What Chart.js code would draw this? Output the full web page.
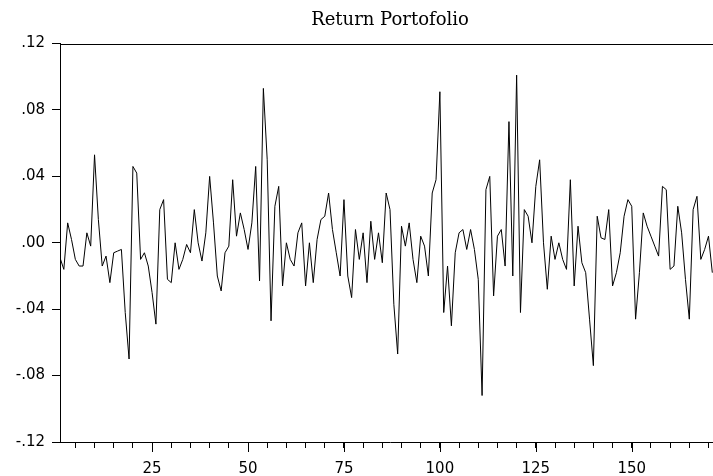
<!DOCTYPE html>
<html>
<head>
<meta charset="utf-8">
<title>Return Portofolio</title>
<script src="https://cdn.jsdelivr.net/npm/chart.js@4.4.1/dist/chart.umd.min.js"></script>
<style>
  html, body { margin: 0; padding: 0; background: #fff; overflow: hidden; }
  #wrap { width: 713px; height: 476px; overflow: hidden; }
</style>
</head>
<body>
<div id="wrap"><canvas id="chart" width="780" height="476"></canvas></div>
<script>
const title = 'Return Portofolio';

// portfolio return per period (1..171)
const returns = [
  -0.009, -0.016, 0.012, 0.002, -0.010, -0.014, -0.014, 0.006, -0.002, 0.053,
  0.014, -0.014, -0.008, -0.024, -0.006, -0.005, -0.004, -0.042, -0.070, 0.046,
  0.042, -0.010, -0.006, -0.014, -0.030, -0.049, 0.020, 0.026, -0.022, -0.024,
  0.000, -0.016, -0.010, -0.001, -0.006, 0.020, 0.000, -0.011, 0.006, 0.040,
  0.012, -0.020, -0.029, -0.006, -0.002, 0.038, 0.004, 0.018, 0.008, -0.004,
  0.012, 0.046, -0.023, 0.093, 0.050, -0.047, 0.022, 0.034, -0.026, 0.000,
  -0.010, -0.014, 0.006, 0.012, -0.026, 0.000, -0.024, 0.002, 0.014, 0.016,
  0.030, 0.008, -0.006, -0.020, 0.026, -0.020, -0.033, 0.008, -0.010, 0.006,
  -0.024, 0.013, -0.010, 0.006, -0.012, 0.030, 0.020, -0.037, -0.067, 0.010,
  -0.002, 0.012, -0.010, -0.024, 0.004, -0.002, -0.020, 0.030, 0.038, 0.091,
  -0.042, -0.014, -0.050, -0.006, 0.006, 0.008, -0.004, 0.008, -0.004, -0.022,
  -0.092, 0.032, 0.040, -0.032, 0.004, 0.008, -0.014, 0.073, -0.020, 0.101,
  -0.042, 0.020, 0.016, 0.000, 0.034, 0.050, 0.000, -0.028, 0.004, -0.010,
  0.000, -0.010, -0.016, 0.038, -0.026, 0.010, -0.012, -0.018, -0.046, -0.074,
  0.016, 0.003, 0.002, 0.020, -0.026, -0.018, -0.006, 0.016, 0.026, 0.022,
  -0.046, -0.018, 0.018, 0.010, 0.004, -0.002, -0.008, 0.034, 0.032, -0.016,
  -0.014, 0.022, 0.006, -0.022, -0.046, 0.020, 0.028, -0.010, -0.004, 0.004,
  -0.018
];

const yTicks = [-0.12, -0.08, -0.04, 0, 0.04, 0.08, 0.12];
const xLabels = [25, 50, 75, 100, 125, 150];
const xMinor = [5, 10, 15, 20, 25, 30, 35, 40, 45, 50, 55, 60, 65, 70, 75, 80, 85,
  90, 95, 100, 105, 110, 115, 120, 125, 130, 135, 140, 145, 150, 155, 160, 165, 170];

const points = returns.map((v, i) => ({ x: i + 1, y: v }));

function fmt(v) {
  const s = '.' + String(Math.round(Math.abs(v) * 100)).padStart(2, '0');
  return v < 0 ? '-' + s : s;
}

// top edge of the frame and the longer marks under the labelled periods
const frame = {
  id: 'frame',
  afterDraw(chart) {
    const { ctx, chartArea: a, scales: { x } } = chart;
    ctx.save();
    ctx.strokeStyle = '#000';
    ctx.lineWidth = 1;
    ctx.beginPath();
    ctx.moveTo(a.left, Math.round(a.top) + 0.5);
    ctx.lineTo(a.right, Math.round(a.top) + 0.5);
    xLabels.forEach(v => {
      const px = Math.round(x.getPixelForValue(v)) + 0.5;
      ctx.moveTo(px, a.bottom);
      ctx.lineTo(px, a.bottom + 10);
    });
    ctx.stroke();
    ctx.restore();
  }
};

const tickFont = { family: 'DejaVu Sans', size: 15 };

new Chart(document.getElementById('chart'), {
  type: 'line',
  data: {
    datasets: [{
      data: points,
      borderColor: '#000',
      borderWidth: 1,
      pointRadius: 0,
      tension: 0,
      fill: false
    }]
  },
  options: {
    responsive: false,
    animation: false,
    devicePixelRatio: 1,
    layout: { padding: { left: 0, right: 60, top: 0, bottom: 0 } },
    plugins: {
      legend: { display: false },
      tooltip: { enabled: false },
      title: {
        display: true,
        fullSize: false,
        text: title,
        color: '#000',
        font: { family: 'DejaVu Serif', size: 18, weight: 'normal' },
        padding: { top: 10, bottom: 12 }
      }
    },
    scales: {
      x: {
        type: 'linear',
        min: 1,
        max: 173,
        afterBuildTicks: s => { s.ticks = xMinor.map(v => ({ value: v })); },
        afterFit: s => { s.height = 34; },
        ticks: {
          autoSkip: false,
          maxRotation: 0,
          padding: 12,
          color: '#000',
          font: tickFont,
          callback: v => xLabels.includes(v) ? String(v) : ''
        },
        grid: { drawOnChartArea: false, tickLength: 6, color: '#000' },
        border: { color: '#000' }
      },
      y: {
        min: -0.12,
        max: 0.12,
        afterBuildTicks: s => { s.ticks = yTicks.map(v => ({ value: v })); },
        afterFit: s => { s.width = 60; },
        ticks: { padding: 7, color: '#000', font: tickFont, callback: v => fmt(v) },
        grid: { drawOnChartArea: false, tickLength: 8, color: '#000' },
        border: { color: '#000' }
      }
    }
  },
  plugins: [frame]
});
</script>
</body>
</html>
